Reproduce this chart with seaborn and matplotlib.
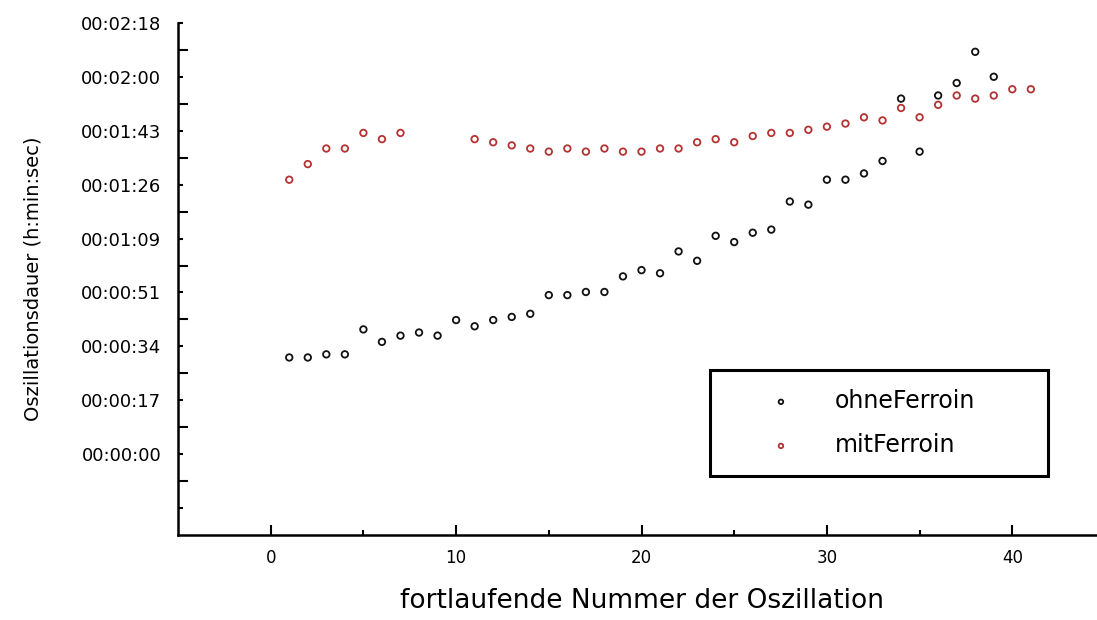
import math
import numpy as np
import pandas as pd
import matplotlib
matplotlib.use("Agg")
import matplotlib.pyplot as plt
from matplotlib.ticker import FixedLocator, FuncFormatter
import seaborn as sns

# Oscillation numbers and durations in seconds
x_ohne = list(range(1, 40))
ohne_ferroin = [31, 31, 32, 32, 40, 36, 38, 39, 38, 43,
                41, 43, 44, 45, 51, 51, 52, 52, 57, 59,
                58, 65, 62, 70, 68, 71, 72, 81, 80, 88,
                88, 90, 94, 114, 97, 115, 119, 129, 121]

x_mit = list(range(1, 8)) + list(range(11, 42))
mit_ferroin = [88, 93, 98, 98, 103, 101, 103,
               101, 100, 99, 98, 97, 98, 97, 98, 97, 97,
               98, 98, 100, 101, 100, 102, 103, 103, 104, 105,
               106, 108, 107, 111, 108, 112, 115, 114, 115, 117, 117]

series_names = ["ohneFerroin", "mitFerroin"]
series_colors = ["#111111", "#b53232"]

# time axis step: 0.0002 day = 17.28 s
STEP = 17.28

sns.set_theme(style="white")
plt.rcParams["font.family"] = ["DejaVu Sans"]
plt.rcParams["text.color"] = "black"
plt.rcParams["axes.labelcolor"] = "black"
plt.rcParams["xtick.color"] = "black"
plt.rcParams["ytick.color"] = "black"

fig = plt.figure(figsize=(10.97, 6.2), dpi=100)
ax = fig.add_axes([178 / 1097, 85 / 620, 927 / 1097, 512 / 620])

frames = [
    pd.DataFrame({"nr": x_ohne, "dauer": ohne_ferroin}),
    pd.DataFrame({"nr": x_mit, "dauer": mit_ferroin}),
]
handles = []
for df, name, col in zip(frames, series_names, series_colors):
    sns.scatterplot(data=df, x="nr", y="dauer", ax=ax, color=col,
                    marker="o", s=22, linewidth=1.3, legend=False)
    coll = ax.collections[-1]
    coll.set_facecolor("none")
    coll.set_edgecolor(col)
    handles.append(coll)

ax.set_xlim(-5, 45)
ax.set_ylim(-1.5 * STEP, 8 * STEP)

# spines
for side in ["top", "right"]:
    ax.spines[side].set_visible(False)
for side in ["left", "bottom"]:
    ax.spines[side].set_color("black")
    ax.spines[side].set_linewidth(1.8)

# ticks
ax.xaxis.set_major_locator(FixedLocator([0, 10, 20, 30, 40]))
ax.xaxis.set_minor_locator(FixedLocator([5, 15, 25, 35]))
ax.yaxis.set_major_locator(FixedLocator([k * STEP for k in range(-1, 9)]))
ax.yaxis.set_minor_locator(FixedLocator([(k + 0.5) * STEP for k in range(-1, 8)]))


def hms(v, pos=None):
    if v < -0.01:
        return ""
    t = int(math.floor(v + 1e-6))
    return f"{t // 3600:02d}:{(t % 3600) // 60:02d}:{t % 60:02d}"


ax.yaxis.set_major_formatter(FuncFormatter(hms))

ax.tick_params(axis="x", which="major", direction="in", length=7, width=1.5,
               color="black", labelsize=12, pad=10, bottom=True)
ax.tick_params(axis="x", which="minor", direction="in", length=3.5, width=1.5,
               color="black", bottom=True)
ax.tick_params(axis="y", which="major", direction="in", length=3.5, width=1.5,
               color="black", labelsize=13, pad=12, left=True)
ax.tick_params(axis="y", which="minor", direction="in", length=7, width=1.5,
               color="black", left=True)

ax.set_xlabel("fortlaufende Nummer der Oszillation", fontsize=19, labelpad=15,
              color="black")
ax.set_ylabel("Oszillationsdauer (h:min:sec)", fontsize=14, labelpad=28,
              color="black")

leg = ax.legend(handles=handles, labels=series_names, loc="upper left",
                bbox_to_anchor=(0.574, 0.115, 0.3646, 0.207), mode="expand",
                fontsize=17, frameon=True, fancybox=False, framealpha=1,
                borderpad=0.8, handlelength=4.4, handletextpad=0.1,
                labelspacing=0.85, markerscale=0.7, borderaxespad=0)
leg.get_frame().set_edgecolor("black")
leg.get_frame().set_linewidth(2.2)

fig.savefig("out.png", dpi=100, facecolor="white")
